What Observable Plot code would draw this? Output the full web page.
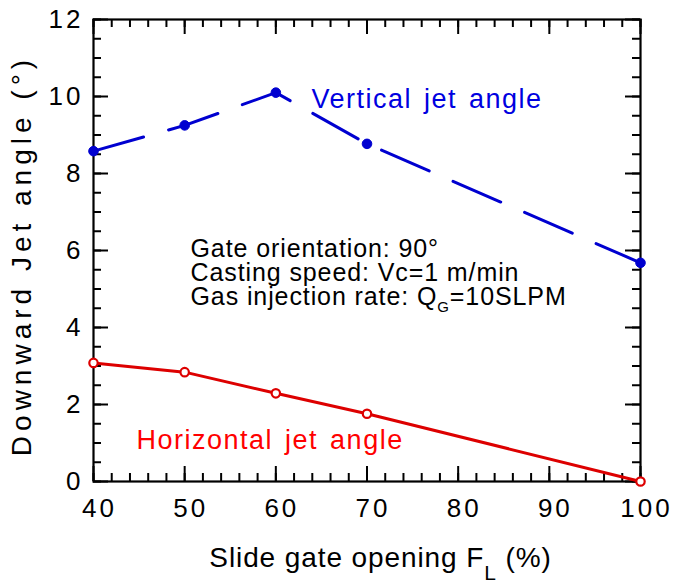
<!DOCTYPE html>
<html><head><meta charset="utf-8">
<script src="https://cdn.jsdelivr.net/npm/d3@7"></script>
<script src="https://cdn.jsdelivr.net/npm/@observablehq/plot@0.6"></script>
<style>
body{margin:0;background:#fff}
#chart svg{font-family:"Liberation Sans",Arial,Helvetica,sans-serif;}
g[aria-label="x-axis tick label"] text, g[aria-label="y-axis tick label"] text{letter-spacing:3px}
text[aria-label="annotation"]{letter-spacing:0.9px}
text[aria-label="x-label"]{letter-spacing:0.9px}
text[aria-label="y-label"]{letter-spacing:5px}
text[aria-label="series-label"]{letter-spacing:1.5px; word-spacing:3px}
</style></head><body><div id="chart"></div>
<script>
// Data
const opening = [40, 50, 60, 70, 100];
const verticalAngle = [8.58, 9.25, 10.1, 8.77, 5.68];
const horizontalAngle = [3.08, 2.84, 2.29, 1.76, 0.0];
const xTicks = [40, 50, 60, 70, 80, 90, 100];
const yTicks = [0, 2, 4, 6, 8, 10, 12];
const xMinorTicks = d3.range(40, 100.001, 2);
const yMinorTicks = d3.range(0, 12.001, 0.5);
const annotationLines = ["Gate orientation: 90°", "Casting speed: Vc=1 m/min", "Gas injection rate: Q|G|=10SLPM"];
const xLabel = "Slide gate opening F|L| (%)";
const yLabel = "Downward Jet angle (°)";
const verticalLabel = "Vertical jet angle";
const horizontalLabel = "Horizontal jet angle";

const vertical = opening.map((x, i) => ({x, y: verticalAngle[i]}));
const horizontal = opening.map((x, i) => ({x, y: horizontalAngle[i]}));

const W = 676, H = 583, ml = 93, mr = 36, mt = 19, mb = 102;
const iw = W - ml - mr, ih = H - mt - mb;
const major = 15, minor = 8;
const blue = "#0000d0", red = "#dd0000";
const tag = name => () => name;

const chart = Plot.plot({
  width: W, height: H,
  marginLeft: ml, marginRight: mr, marginTop: mt, marginBottom: mb,
  style: {fontFamily: '"Liberation Sans", Arial, Helvetica, sans-serif', background: "white"},
  x: {domain: [40, 100]},
  y: {domain: [0, 12]},
  marks: [
    // minor ticks (inward) on all four sides
    Plot.tickX(xMinorTicks, {x: d => d, insetTop: ih - minor, stroke: "black", strokeWidth: 2}),
    Plot.tickX(xMinorTicks, {x: d => d, insetBottom: ih - minor, stroke: "black", strokeWidth: 2}),
    Plot.tickY(yMinorTicks, {y: d => d, insetRight: iw - minor, stroke: "black", strokeWidth: 2}),
    Plot.tickY(yMinorTicks, {y: d => d, insetLeft: iw - minor, stroke: "black", strokeWidth: 2}),
    // major ticks
    Plot.tickX(xTicks, {x: d => d, insetTop: ih - major, stroke: "black", strokeWidth: 2}),
    Plot.tickX(xTicks, {x: d => d, insetBottom: ih - major, stroke: "black", strokeWidth: 2}),
    Plot.tickY(yTicks, {y: d => d, insetRight: iw - major, stroke: "black", strokeWidth: 2}),
    Plot.tickY(yTicks, {y: d => d, insetLeft: iw - major, stroke: "black", strokeWidth: 2}),
    Plot.axisX({ticks: xTicks, tickSize: 0, tickPadding: 17, fontSize: 26, dx: 6, label: null, fill: "black"}),
    Plot.axisY({ticks: yTicks, tickSize: 0, tickPadding: 10, fontSize: 26, label: null, fill: "black"}),
    Plot.frame({stroke: "black", strokeWidth: 2.2}),
    // series
    Plot.line(vertical, {x: "x", y: "y", stroke: blue, strokeWidth: 3, strokeDasharray: "52,26"}),
    Plot.dot(vertical, {x: "x", y: "y", r: 4.8, fill: blue, stroke: blue, strokeWidth: 1}),
    Plot.line(horizontal, {x: "x", y: "y", stroke: red, strokeWidth: 3}),
    Plot.dot(horizontal, {x: "x", y: "y", r: 4.2, fill: "white", stroke: red, strokeWidth: 2.2}),
    // labels
    Plot.text([verticalLabel], {x: 63.9, y: 9.71, text: d => d, textAnchor: "start", lineAnchor: "bottom", fontSize: 27, fill: "#0000e0", ariaLabel: tag("series-label")}),
    Plot.text([horizontalLabel], {x: 44.72, y: 0.857, text: d => d, textAnchor: "start", lineAnchor: "bottom", fontSize: 27, fill: "#ff0000", ariaLabel: tag("series-label")}),
    Plot.text([annotationLines.join("\n")], {frameAnchor: "top-left", dx: 97, dy: 221, text: d => d, textAnchor: "start", lineAnchor: "top", lineHeight: 0.95, fontSize: 25, fill: "black", ariaLabel: tag("annotation")}),
    Plot.text([xLabel], {frameAnchor: "bottom", dx: 13.5, dy: 85, text: d => d, textAnchor: "middle", lineAnchor: "bottom", fontSize: 28, fill: "black", ariaLabel: tag("x-label")}),
    Plot.text([yLabel], {frameAnchor: "left", dx: -63, dy: 5, rotate: -90, text: d => d, textAnchor: "middle", lineAnchor: "bottom", fontSize: 28, fill: "black", ariaLabel: tag("y-label")})
  ]
});

// subscripts: "A|B|C" -> A, subscript B, C
function subscriptify(node, subSize, subDy, subDx) {
  const t = node.textContent;
  if (!t.includes("|")) return;
  const [a, b, c] = t.split("|");
  const sel = d3.select(node);
  sel.selectAll("*").remove();
  sel.text(null);
  sel.append("tspan").text(a);
  sel.append("tspan").attr("font-size", subSize).attr("dy", subDy).attr("dx", subDx).text(b);
  sel.append("tspan").attr("dy", -subDy).text(c);
}
d3.select(chart).selectAll("text").each(function() {
  const lbl = this.getAttribute("aria-label");
  if (lbl === "annotation") {
    d3.select(this).selectAll("tspan").each(function() { subscriptify(this, 15, 7, 0); });
  } else if (lbl === "x-label") {
    subscriptify(this, 21, 13, 0);
  }
});

document.getElementById("chart").appendChild(chart);
</script>
</body></html>
